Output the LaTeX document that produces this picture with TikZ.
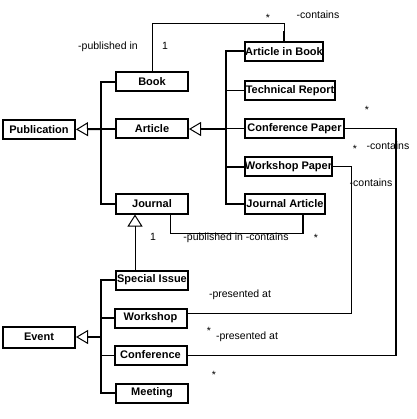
\documentclass[tikz,border=0pt]{standalone}
\usepackage{fontspec}
\setmainfont{Liberation Sans}
\usetikzlibrary{arrows.meta}
\tikzstyle{cls}=[rectangle,draw=black,line width=2pt,inner xsep=0pt,inner ysep=0pt,
  minimum width=72pt,minimum height=19pt,font=\fontsize{11}{12}\selectfont\bfseries]
\tikzstyle{lbl}=[inner sep=0pt,text height=8pt,text depth=2pt,font=\fontsize{10.5}{12}\selectfont]
\tikzstyle{gen}=[-{Triangle[open,length=12pt,width=14pt,line width=1pt]}]
\tikzstyle{thk}=[line width=2pt]
\tikzstyle{none}=[]

\begin{document}
\begin{tikzpicture}[x=1pt,y=-1pt,line width=1pt]
            \useasboundingbox (0,0) rectangle (416,419);
            \node [style=cls] (pub) at (39,130) {Publication};
            \node [style=cls] (book) at (152,82) {Book};
            \node [style=cls] (article) at (152,129) {Article};
            \node [style=cls] (journal) at (152,204) {Journal};
            \node [style=cls,minimum width=78pt] (aib) at (284,51.5) {Article in Book};
            \node [style=cls,minimum width=90pt] (techrep) at (290,91) {Technical Report};
            \node [style=cls,minimum width=99pt] (confpaper) at (294.5,129) {Conference Paper};
            \node [style=cls,minimum width=87pt] (wspaper) at (288.5,167) {Workshop Paper};
            \node [style=cls,minimum width=80pt] (jart) at (285,204) {Journal Article};
            \node [style=cls] (specialissue) at (152,280) {Special Issue};
            \node [style=cls] (workshop) at (150.5,318) {Workshop};
            \node [style=cls] (conference) at (150.5,355) {Conference};
            \node [style=cls] (meeting) at (152,393) {Meeting};
            \node [style=cls,minimum height=21pt] (event) at (39,337) {Event};
            \coordinate (pubj) at (101,129);
            \coordinate (artj) at (226,129);
            \coordinate (evj) at (101,337);
            \coordinate (top) at (0,24);
            \coordinate (cpr) at (396,240);
            \coordinate (wsr) at (351,313);
            % generalisations
            \draw [style=gen,style=thk] (pubj) to (pub);
            \draw [style=thk] (book.west) -| (pubj) |- (journal.west);
            \draw [style=thk] (article.west) to (pubj);
            \draw [style=gen,style=thk] (artj) to (article);
            \draw [style=thk] (aib.west) -| (artj) |- (wspaper.west);
            \draw [style=thk] (artj) |- (jart.west);
            \draw (techrep.west) to (techrep.west -| artj);
            \draw (confpaper.west) to (artj);
            \draw [style=gen,style=thk] (evj) to (event);
            \draw [style=thk] (specialissue.west) -| (evj) |- (meeting.west);
            \draw [style=thk] (workshop.west) to (workshop.west -| evj);
            \draw (conference.west) to (conference.west -| evj);
            \draw [-{Triangle[open,length=12pt,width=15pt]}] ([xshift=-17pt]specialissue.north) to ([xshift=-17pt]journal.south);
            % associations
            \draw (book.north) to (book.north |- top) -| (aib.north);
            \draw [style=thk] (aib.north) to ++(0,-10);
            \draw (confpaper.east) -| (cpr) |- (conference.east);
            \draw [style=thk] (cpr |- confpaper.east) to (cpr |- conference.east);
            \draw (wspaper.east) -| (wsr) -- (wsr -| workshop.east);
            \draw [style=thk] ([xshift=18pt]jart.south) to ++(0,19);
            \draw ([xshift=18pt]jart.south) ++(0,19) -| ([xshift=18pt]journal.south);
            % labels
            \node [style=lbl] (l0) at (108,47) {-published in};
            \node [style=lbl] (l1) at (165,47) {1};
            \node [style=lbl] (l2) at (268,19) {*};
            \node [style=lbl] (l3) at (318,16) {-contains};
            \node [style=lbl] (l4) at (367,111) {*};
            \node [style=lbl] (l5) at (355,150) {*};
            \node [style=lbl] (l6) at (388,147) {-contains};
            \node [style=lbl] (l7) at (371,184) {-contains};
            \node [style=lbl] (l8) at (153,237) {1};
            \node [style=lbl] (l9) at (236,237) {-published in -contains};
            \node [style=lbl] (l10) at (316,238) {*};
            \node [style=lbl] (l11) at (240,294) {-presented at};
            \node [style=lbl] (l12) at (209,331) {*};
            \node [style=lbl] (l13) at (247,336) {-presented at};
            \node [style=lbl] (l14) at (214,375) {*};
    \end{tikzpicture}
\end{document}
